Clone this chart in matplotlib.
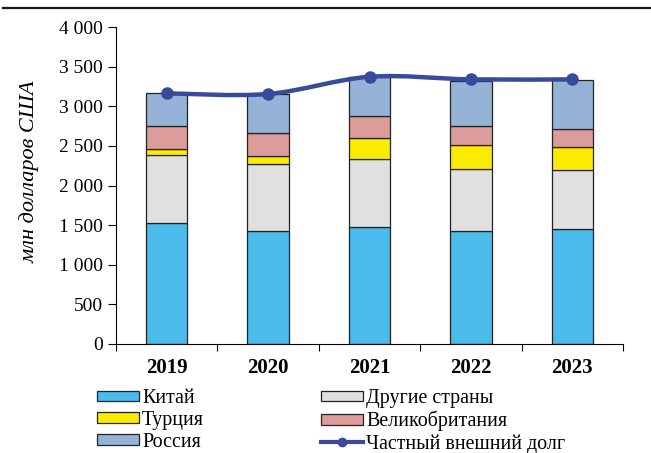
import matplotlib
matplotlib.use("Agg")
import matplotlib.pyplot as plt
import numpy as np
from matplotlib.path import Path
from matplotlib.patches import PathPatch, Patch
from matplotlib.lines import Line2D
from matplotlib.ticker import FuncFormatter, FixedLocator

years = ["2019", "2020", "2021", "2022", "2023"]
china = [1527, 1422, 1472, 1422, 1447]
others = [862, 845, 858, 790, 752]
turkey = [67, 101, 265, 303, 286]
uk = [299, 294, 278, 240, 222]
russia = [408, 493, 500, 565, 624]
private_debt = [3163, 3155, 3372, 3339, 3339]

series = [
    ("Китай", china, "#4BBBEC"),
    ("Другие страны", others, "#E0E0E0"),
    ("Турция", turkey, "#FAEB00"),
    ("Великобритания", uk, "#DC9C9A"),
    ("Россия", russia, "#95B3D7"),
]
line_color = "#3A4A9B"

plt.rcParams["font.family"] = ["Liberation Serif", "DejaVu Serif"]

fig = plt.figure(figsize=(6.51, 4.53), dpi=100)
ax = fig.add_axes([116 / 651, 1 - 344 / 453, (623 - 116) / 651, (344 - 27) / 453])

x = np.arange(len(years))
bottom = np.zeros(len(years))
for name, vals, col in series:
    ax.bar(x, vals, width=0.41, bottom=bottom, color=col, edgecolor="#222222",
           linewidth=0.9, zorder=2)
    bottom += np.array(vals)


# smoothed line like Excel (cardinal spline drawn as cubic Bezier)
def smooth_path(xs, ys, t=1 / 6):
    pts = np.column_stack([xs, ys]).astype(float)
    verts = [pts[0]]
    codes = [Path.MOVETO]
    n = len(pts)
    for i in range(n - 1):
        p0 = pts[i - 1] if i > 0 else pts[i]
        p1 = pts[i]
        p2 = pts[i + 1]
        p3 = pts[i + 2] if i + 2 < n else pts[i + 1]
        c1 = p1 + (p2 - p0) * t
        c2 = p2 - (p3 - p1) * t
        verts += [c1, c2, p2]
        codes += [Path.CURVE4] * 3
    return Path(verts, codes)


ax.add_patch(PathPatch(smooth_path(x, private_debt), facecolor="none",
                       edgecolor=line_color, linewidth=3.2, zorder=3,
                       capstyle="round"))
ax.plot(x, private_debt, linestyle="none", marker="o", markersize=8,
        color=line_color, zorder=4)

ax.set_xlim(-0.5, 4.5)
ax.set_ylim(0, 4000)
ax.set_yticks(np.arange(0, 4001, 500))
ax.yaxis.set_major_formatter(FuncFormatter(
    lambda v, p: f"{int(v):,}".replace(",", " ")))
ax.tick_params(axis="y", labelsize=14, length=5.5, width=0.8, direction="out", pad=4)

ax.set_xticks(x)
ax.set_xticklabels(years, fontweight="bold", fontsize=15)
ax.xaxis.set_minor_locator(FixedLocator(np.arange(-0.5, 4.51, 1)))
ax.tick_params(axis="x", which="major", length=0, pad=10)
ax.tick_params(axis="x", which="minor", length=5, width=0.8, direction="out")

for s in ["top", "right"]:
    ax.spines[s].set_visible(False)
for s in ["left", "bottom"]:
    ax.spines[s].set_linewidth(0.8)

fig.text(30 / 651, 1 - 172 / 453, "млн долларов США", rotation=90, style="italic",
         fontsize=16, ha="center", va="center")

# legend
h = {name: Patch(facecolor=col, edgecolor="#222222", linewidth=0.9)
     for name, vals, col in series}
h_line = Line2D([], [], color=line_color, linewidth=3, marker="o", markersize=6)
handles = [h["Китай"], h["Турция"], h["Россия"], h["Другие страны"],
           h["Великобритания"], h_line]
labels = ["Китай", "Турция", "Россия", "Другие страны", "Великобритания",
          "Частный внешний долг"]
fig.legend(handles, labels, ncol=2, loc="upper left",
           bbox_to_anchor=(97 / 651, 1 - 389 / 453), frameon=False,
           fontsize=14.4, handlelength=2.1, handleheight=0.45, handletextpad=0.15,
           labelspacing=0.14, columnspacing=5.85, borderpad=0, borderaxespad=0)

# separator line at top of the page
fig.add_artist(Line2D([3 / 651, 1], [1 - 7.5 / 453] * 2, color="#1a1a1a",
                      linewidth=1.6))

fig.savefig("out.png", dpi=100)
